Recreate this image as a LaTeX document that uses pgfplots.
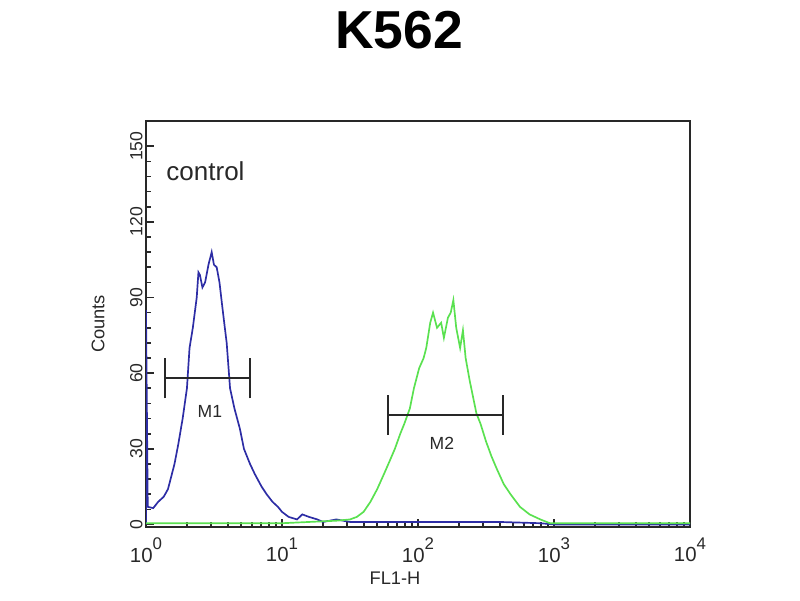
\documentclass[border=0pt]{standalone}
\usepackage{pgfplots}
\pgfplotsset{compat=1.18}
\usepackage{fontspec}
\setmainfont{Liberation Sans}

\definecolor{ctrlblue}{RGB}{45,45,165}
\definecolor{sampgreen}{RGB}{90,225,80}
\definecolor{inkgray}{RGB}{40,40,40}

% decade tick label, superscript set large as in the scan
\newcommand{\dec}[1]{10\raisebox{0.62em}{\fontsize{12}{13}\selectfont #1}}

\begin{document}
\begin{tikzpicture}
  % 800 x 600 px canvas, 1 px = 0.025 cm
  \path[use as bounding box] (0,0) rectangle (20cm,15cm);
  \node[font=\fontsize{38}{42}\selectfont\bfseries] at (9.975cm,14.25cm) {K562};

  \begin{axis}[
      at={(3.65cm,1.825cm)}, anchor=south west,
      scale only axis,
      width=13.6cm, height=10.15cm,
      xmode=log,
      xmin=1, xmax=10000,
      ymin=-1, ymax=160,
      xtick={1,10,100,1000,10000},
      xticklabels={\dec{0},\dec{1},\dec{2},\dec{3},\dec{4}},
      ytick={0,30,60,90,120,150},
      minor y tick num=4,
      xtick pos=bottom, ytick pos=left,
      tick align=inside,
      major tick length=6pt, minor tick length=3.5pt,
      every tick/.style={inkgray, line width=1.2pt},
      axis line style={inkgray, line width=1.3pt},
      /pgf/number format/assume math mode=true,
      xticklabel style={font=\fontsize{14.5}{15}\selectfont, text=inkgray, yshift=-4pt},
      yticklabel style={font=\fontsize{12.5}{13}\selectfont, text=inkgray, rotate=90, anchor=south, yshift=-1pt},
      xlabel={FL1-H},
      xlabel style={font=\fontsize{13}{14}\selectfont, text=inkgray, at={(axis description cs:0.4577,-0.125)}, anchor=center},
      ylabel={Counts},
      ylabel style={font=\fontsize{13}{14}\selectfont, text=inkgray, at={(axis description cs:-0.088,0.5)}, anchor=center},
      clip=true,
    ]

    % control (blue)
    \addplot[ctrlblue, line width=1.2pt] coordinates {
      (1,0)(1,85)(1.03,7)(1.13,6.5)(1.23,9)(1.35,11)(1.45,14)(1.50,17)
      (1.62,24)(1.73,32)(1.86,42)(2.00,54)(2.09,70)(2.21,78)(2.36,90)
      (2.43,100)(2.49,99)(2.60,94)(2.72,96)(2.88,103)(3.04,108)(3.16,103)
      (3.31,102)(3.47,96)(3.61,88)(3.76,80)(3.92,72)(4.15,54)(4.47,46)
      (4.90,38)(5.25,30)(5.82,24)(6.31,20)(7.08,15)(7.71,12)(8.51,9)
      (9.33,7)(10,5)(11.2,3)(12.9,2)(14.1,4)(15.8,3)(18.2,2)(20,1)
      (25.1,2)(31.6,1)(50,1)(100,1)(200,1)(398,1)(794,0.5)(1000,0)(10000,0)
    };

    % sample (green)
    \addplot[sampgreen, line width=1.2pt] coordinates {
      (1,0.5)(10,0.5)(15.8,1)(25.1,1.5)(31.6,2)(35.5,3)(39.8,5)(44.7,9)
      (50.1,14)(56.2,20)(61.7,25)(67.6,30)(74.1,36)(79.4,40)(87.1,46)
      (93.3,54)(102,62)(110,66)(115,70)(123,80)(129,84)(138,78)(148,80)
      (155,74)(166,82)(174,84)(182,89)(191,78)(204,70)(214,77)(224,66)
      (240,57)(269,44)(288,40)(316,33)(347,27)(380,22)(427,16)(479,12)
      (562,7)(661,4)(794,2)(933,0.5)(3162,0.5)(10000,0.5)
    };

    % M1 marker
    \addplot[inkgray, line width=1.4pt] coordinates {(1.38,58)(5.8,58)};
    \addplot[inkgray, line width=1.4pt] coordinates {(1.38,50)(1.38,66)};
    \addplot[inkgray, line width=1.4pt] coordinates {(5.8,50)(5.8,66)};
    % M2 marker
    \addplot[inkgray, line width=1.4pt] coordinates {(60.5,43.5)(424,43.5)};
    \addplot[inkgray, line width=1.4pt] coordinates {(60.5,35.5)(60.5,51.5)};
    \addplot[inkgray, line width=1.4pt] coordinates {(424,35.5)(424,51.5)};

    \node[font=\fontsize{12.5}{13}\selectfont, text=inkgray] at (axis cs:2.95,45) {M1};
    \node[font=\fontsize{12.5}{13}\selectfont, text=inkgray] at (axis cs:150,32) {M2};
    \node[font=\fontsize{18.5}{20}\selectfont, text=inkgray, anchor=west] at (axis cs:1.30,140) {control};
  \end{axis}
\end{tikzpicture}
\end{document}
